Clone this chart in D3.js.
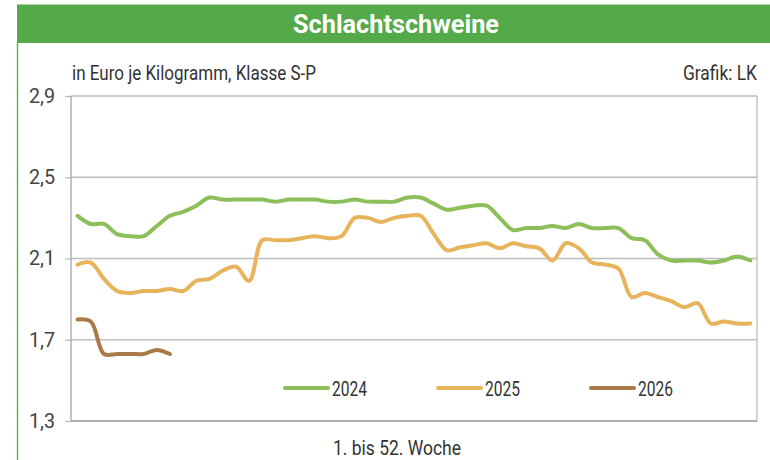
<!DOCTYPE html>
<html>
<head>
<meta charset="utf-8">
<script src="https://cdn.jsdelivr.net/npm/d3@7"></script>
<style>
  body { margin: 0; background: #fff; }
  text { font-family: "Roboto", "Liberation Sans", sans-serif; }
</style>
</head>
<body>
<div id="chart"></div>
<script>
// weeks 1..52
const weeks = d3.range(1, 53);
const yTicks = [1.3, 1.7, 2.1, 2.5, 2.9];

const years = ["2024", "2025", "2026"];
const colours = ["#8cbf5a", "#e8b45b", "#a97a47"];

const prices2024 = [2.31, 2.27, 2.27, 2.22, 2.21, 2.21, 2.26, 2.31, 2.33, 2.36,
    2.40, 2.39, 2.39, 2.39, 2.39, 2.38, 2.39, 2.39, 2.39, 2.38,
    2.38, 2.39, 2.38, 2.38, 2.38, 2.40, 2.40, 2.37, 2.34, 2.35,
    2.36, 2.36, 2.30, 2.24, 2.25, 2.25, 2.26, 2.25, 2.27, 2.25,
    2.25, 2.25, 2.20, 2.19, 2.12, 2.09, 2.09, 2.09, 2.08, 2.09,
    2.11, 2.09];
const prices2025 = [2.07, 2.08, 2.00, 1.94, 1.93, 1.94, 1.94, 1.95, 1.94, 1.99,
    2.00, 2.04, 2.06, 1.99, 2.19, 2.19, 2.19, 2.20, 2.21, 2.20,
    2.21, 2.30, 2.30, 2.28, 2.30, 2.31, 2.31, 2.22, 2.14, 2.155,
    2.165, 2.175, 2.15, 2.175, 2.16, 2.15, 2.09, 2.175, 2.15, 2.08,
    2.07, 2.05, 1.91, 1.93, 1.91, 1.89, 1.86, 1.88, 1.78, 1.79,
    1.78, 1.78];
const prices2026 = [1.80, 1.79, 1.63, 1.63, 1.63, 1.63, 1.65, 1.63];

const series = [prices2024, prices2025, prices2026];

const W = 770, H = 460;
const plot = { left: 71, right: 757, top: 96, bottom: 421 };

const svg = d3.select("#chart").append("svg")
    .attr("width", W)
    .attr("height", H);

// frame: title bar and green left edge
svg.append("line")
    .attr("x1", 17).attr("x2", W).attr("y1", 4.5).attr("y2", 4.5)
    .attr("stroke", "#a9d39f").attr("stroke-width", 1);
svg.append("rect")
    .attr("x", 17).attr("y", 5)
    .attr("width", W - 17).attr("height", 38)
    .attr("fill", "#54aa48");
svg.append("line")
    .attr("x1", 17.5).attr("x2", 17.5).attr("y1", 43).attr("y2", H)
    .attr("stroke", "#5cb850").attr("stroke-width", 1.5);

// condensed look: squeeze text to the widths in the picture
function squeeze(sel, len) {
    sel.attr("textLength", len).attr("lengthAdjust", "spacingAndGlyphs");
}

svg.append("text")
    .attr("x", 293).attr("y", 33)
    .attr("fill", "#fff")
    .style("font-size", "26px")
    .style("font-weight", "bold")
    .text("Schlachtschweine")
    .call(squeeze, 206);

svg.append("text")
    .attr("x", 72).attr("y", 80)
    .attr("fill", "#333")
    .style("font-size", "20px")
    .text("in Euro je Kilogramm, Klasse S-P")
    .call(squeeze, 244);

svg.append("text")
    .attr("x", 683).attr("y", 80)
    .attr("fill", "#333")
    .style("font-size", "20px")
    .text("Grafik: LK")
    .call(squeeze, 74);

// scales
const x = d3.scalePoint().domain(weeks).range([plot.left, plot.right]).padding(0.5);
const y = d3.scaleLinear().domain([1.3, 2.9]).range([plot.bottom, plot.top]);

// gridlines
svg.append("g")
    .selectAll("line")
    .data(yTicks)
    .enter()
    .append("line")
    .attr("x1", plot.left).attr("x2", plot.right)
    .attr("y1", d => y(d)).attr("y2", d => y(d))
    .attr("stroke", "#bdbdbd").attr("stroke-width", 1.3);

// y axis with comma decimals
const yAxis = svg.append("g")
    .attr("transform", "translate(" + plot.left + ",0)")
    .call(d3.axisLeft(y).tickValues(yTicks).tickSize(6).tickPadding(10)
        .tickFormat(d => d3.format(".1f")(d).replace(".", ",")));
yAxis.select(".domain").remove();
yAxis.selectAll(".tick line").attr("stroke", "#bdbdbd").attr("stroke-width", 1.3);
yAxis.selectAll(".tick text")
    .attr("fill", "#444")
    .style("font-size", "20px")
    .style("font-family", "Roboto, sans-serif")
    .call(squeeze, 26);

// plot box edges
svg.append("line")
    .attr("x1", plot.left).attr("x2", plot.left).attr("y1", plot.top).attr("y2", plot.bottom)
    .attr("stroke", "#a6a6a6").attr("stroke-width", 1.3);
svg.append("line")
    .attr("x1", plot.right).attr("x2", plot.right).attr("y1", plot.top).attr("y2", plot.bottom)
    .attr("stroke", "#bdbdbd").attr("stroke-width", 1.3);
svg.append("line")
    .attr("x1", plot.left).attr("x2", plot.right).attr("y1", plot.bottom).attr("y2", plot.bottom)
    .attr("stroke", "#a6a6a6").attr("stroke-width", 1.3);

// lines
const line = d3.line()
    .x((d, i) => x(weeks[i]))
    .y(d => y(d))
    .curve(d3.curveCatmullRom.alpha(0.5));

svg.append("g")
    .selectAll("path")
    .data(series)
    .enter()
    .append("path")
    .attr("d", d => line(d))
    .attr("fill", "none")
    .attr("stroke", (d, i) => colours[i])
    .attr("stroke-width", 4)
    .attr("stroke-linecap", "round")
    .attr("stroke-linejoin", "round");

// legend
const legend = svg.append("g")
    .selectAll("g")
    .data(years)
    .enter()
    .append("g")
    .attr("transform", (d, i) => "translate(" + (285 + i * 153) + ",388)");

legend.append("line")
    .attr("x1", 0).attr("x2", 43)
    .attr("stroke", (d, i) => colours[i])
    .attr("stroke-width", 4)
    .attr("stroke-linecap", "round");

legend.append("text")
    .attr("x", 47).attr("y", 8)
    .attr("fill", "#333")
    .style("font-size", "21px")
    .text(d => d)
    .call(squeeze, 35);

// x label
svg.append("text")
    .attr("x", 333).attr("y", 455)
    .attr("fill", "#333")
    .style("font-size", "21px")
    .text("1. bis 52. Woche")
    .call(squeeze, 128);
</script>
</body>
</html>
